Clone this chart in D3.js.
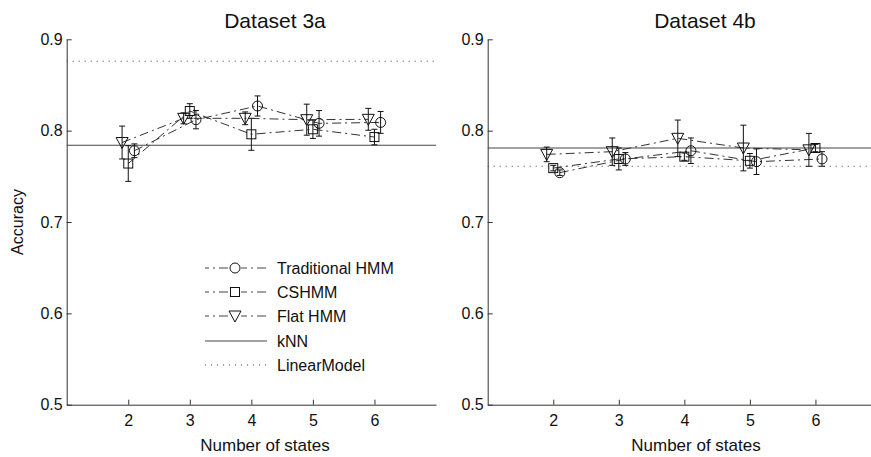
<!DOCTYPE html>
<html>
<head>
<meta charset="utf-8">
<script src="https://cdn.jsdelivr.net/npm/d3@7"></script>
<style>
  body { margin: 0; background: #fff; }
  svg { display: block; font-family: "Liberation Sans", Arial, sans-serif; }
</style>
</head>
<body>
<div id="chart"></div>
<script>
// values
var states = [2, 3, 4, 5, 6];
var yTicks = [0.5, 0.6, 0.7, 0.8, 0.9];
var xTicks = [2, 3, 4, 5, 6];

var trad3a = [0.778, 0.812, 0.827, 0.808, 0.809];
var trad3aErr = [0.0075, 0.010, 0.011, 0.014, 0.012];
var cshmm3a = [0.764, 0.8215, 0.796, 0.8015, 0.793];
var cshmm3aErr = [0.0195, 0.008, 0.0175, 0.010, 0.0085];
var flat3a = [0.787, 0.8135, 0.8135, 0.812, 0.8124];
var flat3aErr = [0.018, 0.006, 0.007, 0.017, 0.012];
var knn3a = 0.784;
var linear3a = 0.876;

var trad4b = [0.754, 0.769, 0.778, 0.766, 0.769];
var trad4bErr = [0.003, 0.007, 0.014, 0.014, 0.008];
var cshmm4b = [0.759, 0.769, 0.7715, 0.767, 0.781];
var cshmm4bErr = [0.003, 0.012, 0.004, 0.008, 0.004];
var flat4b = [0.774, 0.777, 0.7916, 0.781, 0.779];
var flat4bErr = [0.008, 0.015, 0.020, 0.025, 0.018];
var knn4b = 0.781;
var linear4b = 0.761;

var legendNames = ["Traditional HMM", "CSHMM", "Flat HMM", "kNN", "LinearModel"];

var W = 871, H = 457;
var svg = d3.select("#chart").append("svg")
    .attr("width", W)
    .attr("height", H);

var panels = [
  {title: "Dataset 3a", x0: 66.7, x1: 436, titleX: 275, labelX: 265,
   trad: trad3a, tradErr: trad3aErr, cs: cshmm3a, csErr: cshmm3aErr,
   flat: flat3a, flatErr: flat3aErr, knn: knn3a, lin: linear3a, legend: true},
  {title: "Dataset 4b", x0: 487.7, x1: 881, titleX: 705, labelX: 696,
   trad: trad4b, tradErr: trad4bErr, cs: cshmm4b, csErr: cshmm4bErr,
   flat: flat4b, flatErr: flat4bErr, knn: knn4b, lin: linear4b, legend: false}
];

var dashDot = "9,4,2,4";
var ink = "#111";

function marker(g, type, cx, cy) {
  if (type == "circle") {
    g.append("circle").attr("cx", cx).attr("cy", cy).attr("r", 5)
      .attr("fill", "none").attr("stroke", ink).attr("stroke-width", 1);
  } else if (type == "square") {
    g.append("rect").attr("x", cx - 4.5).attr("y", cy - 4.5)
      .attr("width", 9).attr("height", 9)
      .attr("fill", "none").attr("stroke", ink).attr("stroke-width", 1);
  } else {
    g.append("path")
      .attr("d", "M" + (cx - 6) + "," + (cy - 5) + "L" + (cx + 6) + "," + (cy - 5) + "L" + cx + "," + (cy + 6) + "Z")
      .attr("fill", "none").attr("stroke", ink).attr("stroke-width", 1);
  }
}

panels.forEach(function(p) {
  var x = d3.scaleLinear().domain([1, 7]).range([p.x0, p.x1]);
  var y = d3.scaleLinear().domain([0.5, 0.9]).range([404.7, 39.3]);
  var g = svg.append("g");

  // axes, ticks drawn inward like matlab
  g.append("g")
    .attr("transform", "translate(0,404.7)")
    .call(d3.axisBottom(x).tickValues(xTicks).tickFormat(d3.format("d")).tickSize(-5).tickPadding(10).tickSizeOuter(0))
    .call(function(a) {
      a.select(".domain").attr("stroke", "#333");
      a.selectAll("line").attr("stroke", "#333");
      a.selectAll("text").attr("font-size", 16).attr("fill", "#111")
        .attr("font-family", "Liberation Sans, Arial, sans-serif");
    });
  g.append("g")
    .attr("transform", "translate(" + p.x0 + ",0)")
    .call(d3.axisLeft(y).tickValues(yTicks).tickFormat(d3.format(".1f")).tickSize(-5).tickPadding(4).tickSizeOuter(0))
    .call(function(a) {
      a.select(".domain").attr("stroke", "#333");
      a.selectAll("line").attr("stroke", "#333");
      a.selectAll("text").attr("font-size", 16).attr("fill", "#111")
        .attr("font-family", "Liberation Sans, Arial, sans-serif");
    });

  // reference lines
  g.append("line")
    .attr("x1", p.x0).attr("x2", p.x1)
    .attr("y1", y(p.knn)).attr("y2", y(p.knn))
    .attr("stroke", "#444").attr("stroke-width", 1.2);
  g.append("line")
    .attr("x1", p.x0).attr("x2", p.x1)
    .attr("y1", y(p.lin)).attr("y2", y(p.lin))
    .attr("stroke", "#444").attr("stroke-width", 1)
    .attr("stroke-dasharray", "1,5");

  var series = [
    {vals: p.trad, err: p.tradErr, off: 0.1, type: "circle"},
    {vals: p.cs, err: p.csErr, off: 0, type: "square"},
    {vals: p.flat, err: p.flatErr, off: -0.1, type: "triangle"}
  ];

  series.forEach(function(s) {
    var pts = states.map(function(d, i) { return {x: d + s.off, v: s.vals[i], e: s.err[i]}; });
    g.append("path")
      .datum(pts)
      .attr("fill", "none")
      .attr("stroke", "#333")
      .attr("stroke-width", 1)
      .attr("stroke-dasharray", dashDot)
      .attr("d", d3.line()
        .x(function(d) { return x(d.x); })
        .y(function(d) { return y(d.v); }));

    pts.forEach(function(d) {
      var cx = x(d.x);
      var top = y(d.v + d.e), bot = y(d.v - d.e);
      g.append("line").attr("x1", cx).attr("x2", cx).attr("y1", top).attr("y2", bot)
        .attr("stroke", ink).attr("stroke-width", 1);
      g.append("line").attr("x1", cx - 3).attr("x2", cx + 3).attr("y1", top).attr("y2", top)
        .attr("stroke", ink).attr("stroke-width", 1);
      g.append("line").attr("x1", cx - 3).attr("x2", cx + 3).attr("y1", bot).attr("y2", bot)
        .attr("stroke", ink).attr("stroke-width", 1);
      marker(g, s.type, cx, y(d.v));
    });
  });

  // titles and labels
  g.append("text")
    .attr("x", p.titleX).attr("y", 28)
    .attr("text-anchor", "middle")
    .attr("font-size", 21)
    .attr("fill", "#111")
    .text(p.title);
  g.append("text")
    .attr("x", p.labelX).attr("y", 451)
    .attr("text-anchor", "middle")
    .attr("font-size", 17)
    .attr("fill", "#111")
    .text("Number of states");

  if (p.legend) {
    var rows = [268, 292, 316, 341, 365];
    var types = ["circle", "square", "triangle", "knn", "lin"];
    rows.forEach(function(ry, i) {
      var t = types[i];
      var ln = g.append("line").attr("x1", 205).attr("x2", 267).attr("y1", ry).attr("y2", ry)
        .attr("stroke", "#444").attr("stroke-width", 1);
      if (t == "lin") ln.attr("stroke-dasharray", "1,5");
      else if (t != "knn") ln.attr("stroke-dasharray", dashDot).attr("stroke-dashoffset", 5);
      if (t == "circle" || t == "square" || t == "triangle") {
        g.append("rect").attr("x", 229).attr("y", ry - 7).attr("width", 12).attr("height", 14).attr("fill", "#fff");
        marker(g, t, 235, ry);
      }
      g.append("text")
        .attr("x", 277).attr("y", ry + 6)
        .attr("font-size", 16)
        .attr("fill", "#111")
        .text(legendNames[i]);
    });
  }
});

svg.append("text")
  .attr("transform", "translate(23,222) rotate(-90)")
  .attr("text-anchor", "middle")
  .attr("font-size", 16)
  .attr("fill", "#111")
  .text("Accuracy");
</script>
</body>
</html>
